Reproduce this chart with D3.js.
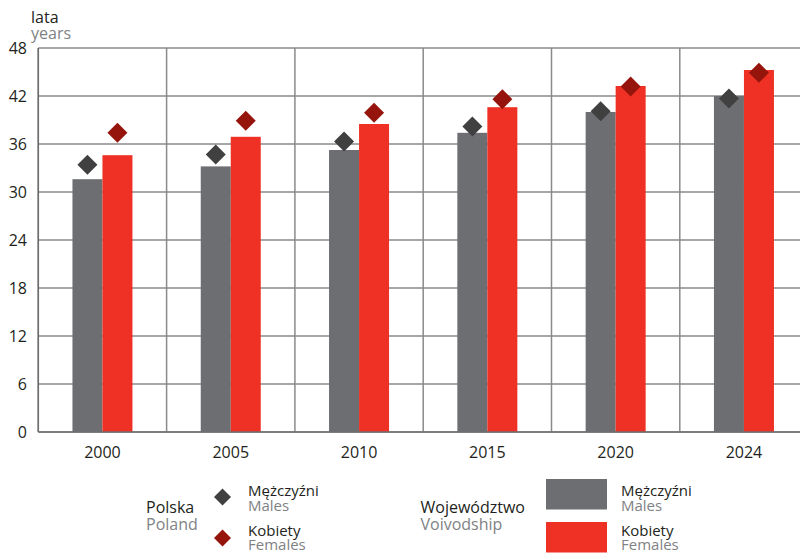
<!DOCTYPE html>
<html>
<head>
<meta charset="utf-8">
<script src="https://cdn.jsdelivr.net/npm/d3@7"></script>
<style>
  html, body { margin: 0; padding: 0; background: #fff; }
  svg { display: block; font-family: "Open Sans", sans-serif; }
</style>
</head>
<body>
<svg id="chart" width="800" height="554"></svg>
<script>
// Median age by sex: voivodship (bars) vs Poland (diamonds)
const years = ["2000", "2005", "2010", "2015", "2020", "2024"];
const voivMales = [31.6, 33.2, 35.25, 37.4, 40.0, 42.0];
const voivFemales = [34.6, 36.9, 38.5, 40.6, 43.25, 45.25];
const polandMales = [33.4, 34.7, 36.3, 38.2, 40.1, 41.7];
const polandFemales = [37.4, 38.9, 39.9, 41.6, 43.2, 44.9];
const yTicks = [0, 6, 12, 18, 24, 30, 36, 42, 48];

const COL = {
  barM: "#6d6e71",
  barF: "#ee3124",
  dotM: "#404041",
  dotF: "#95150c",
  grid: "#8a8a8a",
  ink: "#231f20",
  sub: "#808285"
};

const svg = d3.select("#chart");
const plotLeft = 38.3, plotBottom = 432, plotTop = 48;
const band = 128.3;

const x = d3.scaleBand().domain(years).range([plotLeft, plotLeft + band * years.length]).padding(0);
const y = d3.scaleLinear().domain([0, 48]).range([plotBottom, plotTop]);
const barW = 30;

// grid
const g = svg.append("g");
g.selectAll("line.h").data(yTicks).join("line")
  .attr("x1", plotLeft).attr("x2", 800)
  .attr("y1", d => y(d)).attr("y2", d => y(d))
  .attr("stroke", COL.grid).attr("stroke-width", 1.5);
g.selectAll("line.v").data(years).join("line")
  .attr("x1", d => x(d)).attr("x2", d => x(d))
  .attr("y1", y(48)).attr("y2", y(0))
  .attr("stroke", COL.grid).attr("stroke-width", 1.5);

// y tick labels
svg.append("g").selectAll("text").data(yTicks).join("text")
  .attr("x", 27).attr("y", d => y(d) + 6)
  .attr("text-anchor", "end")
  .attr("font-size", 16).attr("fill", COL.ink)
  .text(d => d);

// x tick labels
svg.append("g").selectAll("text").data(years).join("text")
  .attr("x", d => x(d) + x.bandwidth() / 2).attr("y", 458)
  .attr("text-anchor", "middle")
  .attr("font-size", 16).attr("fill", COL.ink)
  .text(d => d);

// unit label
svg.append("text").attr("x", 31).attr("y", 22.5).attr("font-size", 16).attr("fill", COL.ink).text("lata");
svg.append("text").attr("x", 31).attr("y", 38.5).attr("font-size", 16).attr("fill", COL.sub).text("years");

// bars
const bars = svg.append("g");
bars.selectAll("rect.m").data(voivMales).join("rect")
  .attr("x", (d, i) => x(years[i]) + x.bandwidth() / 2 - barW)
  .attr("y", d => y(d)).attr("width", barW).attr("height", d => y(0) - y(d))
  .attr("fill", COL.barM);
bars.selectAll("rect.f").data(voivFemales).join("rect")
  .attr("x", (d, i) => x(years[i]) + x.bandwidth() / 2)
  .attr("y", d => y(d)).attr("width", barW).attr("height", d => y(0) - y(d))
  .attr("fill", COL.barF);

// diamonds
const diamond = r => `M0,${-r}L${r},0L0,${r}L${-r},0Z`;
const dots = svg.append("g");
dots.selectAll("path.m").data(polandMales).join("path")
  .attr("d", diamond(10))
  .attr("transform", (d, i) => `translate(${x(years[i]) + x.bandwidth() / 2 - barW / 2},${y(d)})`)
  .attr("fill", COL.dotM);
dots.selectAll("path.f").data(polandFemales).join("path")
  .attr("d", diamond(10))
  .attr("transform", (d, i) => `translate(${x(years[i]) + x.bandwidth() / 2 + barW / 2},${y(d)})`)
  .attr("fill", COL.dotF);

// axis lines
svg.append("line").attr("x1", plotLeft).attr("x2", plotLeft).attr("y1", plotTop).attr("y2", plotBottom)
  .attr("stroke", "#6f6f6f").attr("stroke-width", 1.5);
svg.append("line").attr("x1", plotLeft).attr("x2", 800).attr("y1", plotBottom).attr("y2", plotBottom)
  .attr("stroke", "#6f6f6f").attr("stroke-width", 1.5);

// legend
const lg = svg.append("g");
function pair(xp, y1, a, b, gap, size) {
  lg.append("text").attr("x", xp).attr("y", y1).attr("font-size", size).attr("fill", COL.ink).text(a);
  lg.append("text").attr("x", xp).attr("y", y1 + gap).attr("font-size", size).attr("fill", COL.sub).text(b);
}
pair(146, 513, "Polska", "Poland", 17, 16);
lg.append("path").attr("d", diamond(8.5)).attr("transform", "translate(222.5,497)").attr("fill", COL.dotM);
lg.append("path").attr("d", diamond(8.5)).attr("transform", "translate(222.5,538)").attr("fill", COL.dotF);
pair(248, 495.5, "Mężczyźni", "Males", 15, 15);
pair(248, 535.5, "Kobiety", "Females", 14.5, 15);

pair(420.5, 513, "Województwo", "Voivodship", 17, 16);
lg.append("rect").attr("x", 546).attr("y", 479).attr("width", 61).attr("height", 30.5).attr("fill", COL.barM);
lg.append("rect").attr("x", 546).attr("y", 522).attr("width", 61).attr("height", 30.5).attr("fill", COL.barF);
pair(621, 495.5, "Mężczyźni", "Males", 15, 15);
pair(621, 535.5, "Kobiety", "Females", 14.5, 15);
</script>
</body>
</html>
